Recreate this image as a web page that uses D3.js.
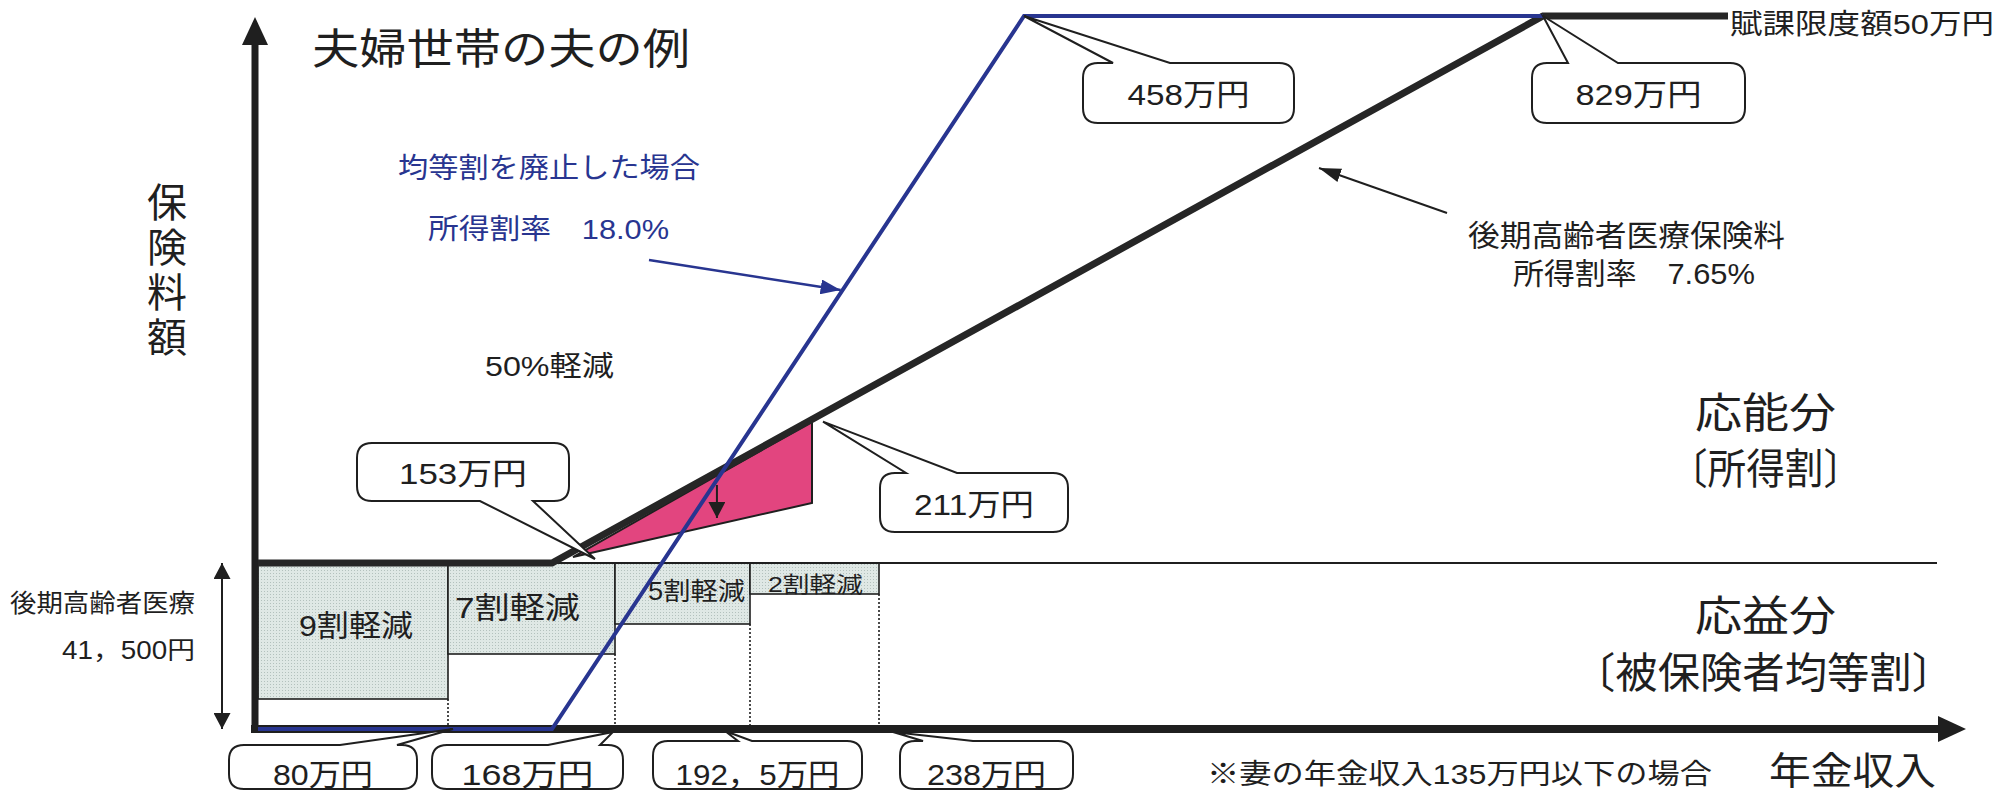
<!DOCTYPE html>
<html>
<head>
<meta charset="utf-8">
<script src="https://cdn.jsdelivr.net/npm/d3@7.9.0/dist/d3.min.js"></script>
<style>
  html, body { margin: 0; padding: 0; background: #fff; }
  svg { display: block; font-family: "Liberation Sans", "Noto Sans CJK JP", sans-serif; }
</style>
</head>
<body>
<svg id="chart" width="2014" height="792"></svg>
<script>
// 年金収入の区切り（万円）
const incomeBreaks = [0, 80, 153, 168, 192.5, 211, 238, 458, 829, 1000, 1200];

// 均等割の軽減区分（上端は 41,500円）
const flatRate = 41500;
const premiumCap = 500000;
const reductionLabels = ['9割軽減', '7割軽減', '5割軽減', '2割軽減'];
const reductionFrom = [0, 80, 168, 192.5];
const reductionTo = [80, 168, 192.5, 238];
const reductionFloor = [7500, 18750, 26250, 33750];

// 後期高齢者医療保険料（所得割率 7.65%）
const currentIncome = [0, 153, 829, 1000];
const currentPremium = [41500, 41500, 500000, 500000];

// 均等割を廃止した場合（所得割率 18.0%）
const abolishedIncome = [0, 153, 458, 829];
const abolishedPremium = [0, 0, 500000, 500000];

// 所得割 50%軽減 の部分
const halfIncome = [158, 211, 211];
const halfPremium = [46500, 160000, 91800];

// 吹き出しの値と、指している保険料の高さ
const calloutValues = [80, 168, 192.5, 238, 153, 211, 458, 829];
const calloutLabels = ['80万円', '168万円', '192，5万円', '238万円', '153万円', '211万円', '458万円', '829万円'];
const calloutLevel = [0, 0, 0, 0, 41500, 160000, 500000, 500000];

const svg = d3.select('#chart');

// schematic (not to scale) -> piecewise scales
const x = d3.scaleLinear()
  .domain(incomeBreaks)
  .range([258, 448, 552, 615, 750, 812, 879, 1024, 1543, 1728, 1963]);
const y = d3.scaleLinear()
  .domain([0, flatRate, premiumCap])
  .range([729, 563, 16]);

const ink = '#1f1f1f';
const navy = '#283590';

// dotted fill for the reduction boxes
const defs = svg.append('defs');
const pat = defs.append('pattern')
  .attr('id', 'dots').attr('width', 3).attr('height', 3)
  .attr('patternUnits', 'userSpaceOnUse');
pat.append('rect').attr('width', 3).attr('height', 3).attr('fill', '#dfe8e5');
pat.append('rect').attr('width', 1).attr('height', 1).attr('fill', '#b3c1bd');

function marker(id, color, len, wid) {
  defs.append('marker')
    .attr('id', id).attr('markerUnits', 'userSpaceOnUse')
    .attr('viewBox', `0 0 ${len} ${wid}`)
    .attr('refX', len).attr('refY', wid / 2)
    .attr('markerWidth', len).attr('markerHeight', wid)
    .attr('orient', 'auto-start-reverse')
    .append('path')
    .attr('d', `M0,0L${len},${wid / 2}L0,${wid}Z`)
    .attr('fill', color);
}
marker('headNavy', navy, 20, 15);
marker('headInk', ink, 22, 14);
marker('headSmall', ink, 16, 17);

// reduction boxes
const boxes = reductionLabels.map((label, i) => ({
  label, from: reductionFrom[i], to: reductionTo[i], floor: reductionFloor[i]
}));

svg.append('g').selectAll('rect')
  .data(boxes)
  .join('rect')
  .attr('x', d => x(d.from))
  .attr('y', y(flatRate))
  .attr('width', d => x(d.to) - x(d.from))
  .attr('height', d => y(d.floor) - y(flatRate))
  .attr('fill', 'url(#dots)')
  .attr('stroke', ink)
  .attr('stroke-width', 1.6);

// dotted drops from the box bottoms to the axis
svg.append('g').selectAll('line')
  .data(boxes)
  .join('line')
  .attr('x1', d => x(d.to)).attr('x2', d => x(d.to))
  .attr('y1', d => y(d.floor)).attr('y2', y(0))
  .attr('stroke', ink)
  .attr('stroke-width', 1.6)
  .attr('stroke-dasharray', '2,2');

// 均等割 level line across the chart
svg.append('line')
  .attr('x1', x(153)).attr('x2', 1937)
  .attr('y1', y(flatRate)).attr('y2', y(flatRate))
  .attr('stroke', ink).attr('stroke-width', 2);

// box labels
const boxText = [
  { x: 299, w: 114, y: 625, s: 30 },
  { x: 455, w: 125, y: 607, s: 30 },
  { x: 648, w: 97, y: 591, s: 25 },
  { x: 768, w: 95, y: 584, s: 22 }
];
svg.append('g').selectAll('text')
  .data(boxes)
  .join('text')
  .attr('x', (d, i) => boxText[i].x)
  .attr('y', (d, i) => boxText[i].y)
  .attr('textLength', (d, i) => boxText[i].w)
  .attr('lengthAdjust', 'spacingAndGlyphs')
  .attr('dominant-baseline', 'central')
  .attr('font-size', (d, i) => boxText[i].s)
  .attr('fill', ink)
  .text(d => d.label);

// axes
svg.append('line')
  .attr('x1', x(0) - 7).attr('x2', 1940)
  .attr('y1', y(0)).attr('y2', y(0))
  .attr('stroke', ink).attr('stroke-width', 8);
svg.append('path')
  .attr('d', `M1938,${y(0) - 13}L1966,${y(0)}L1938,${y(0) + 13}Z`)
  .attr('fill', ink);
svg.append('line')
  .attr('x1', x(0) - 3).attr('x2', x(0) - 3)
  .attr('y1', y(0) + 4).attr('y2', 42)
  .attr('stroke', ink).attr('stroke-width', 7);
svg.append('path')
  .attr('d', `M${x(0) - 16},45L${x(0) - 3},17L${x(0) + 10},45Z`)
  .attr('fill', ink);

// 50%軽減 wedge
const halfPts = halfIncome.map((v, i) => [x(v), y(halfPremium[i])]);
svg.append('path')
  .attr('d', d3.line()(halfPts) + 'Z')
  .attr('fill', '#e2457f')
  .attr('stroke', ink)
  .attr('stroke-width', 2);

// lines
const line = d3.line().x(d => x(d[0])).y(d => y(d[1]));
svg.append('path')
  .attr('d', line(currentIncome.map((v, i) => [v, currentPremium[i]])))
  .attr('fill', 'none')
  .attr('stroke', '#262626')
  .attr('stroke-width', 7)
  .attr('stroke-linejoin', 'miter');
svg.append('path')
  .attr('d', line(abolishedIncome.map((v, i) => [v, abolishedPremium[i]])))
  .attr('fill', 'none')
  .attr('stroke', navy)
  .attr('stroke-width', 4);

// small arrow in the pink wedge
svg.append('line')
  .attr('x1', x(186.5)).attr('x2', x(186.5))
  .attr('y1', y(106900)).attr('y2', y(79200))
  .attr('stroke', ink).attr('stroke-width', 2)
  .attr('marker-end', 'url(#headSmall)');

// arrow to the blue line
const b0 = [x(153), y(0)], b1 = [x(458), y(premiumCap)];
const tY = 290;
const tX = b0[0] + (b1[0] - b0[0]) * (b0[1] - tY) / (b0[1] - b1[1]);
svg.append('line')
  .attr('x1', 649).attr('y1', 260).attr('x2', tX - 2).attr('y2', tY)
  .attr('stroke', navy).attr('stroke-width', 2.5)
  .attr('marker-end', 'url(#headNavy)');

// arrow to the black line
svg.append('line')
  .attr('x1', 1447).attr('y1', 213).attr('x2', 1319).attr('y2', 168)
  .attr('stroke', ink).attr('stroke-width', 2)
  .attr('marker-end', 'url(#headInk)');

// 41,500円 double arrow
svg.append('line')
  .attr('x1', 222).attr('x2', 222)
  .attr('y1', y(0)).attr('y2', y(flatRate))
  .attr('stroke', ink).attr('stroke-width', 2)
  .attr('marker-start', 'url(#headSmall)')
  .attr('marker-end', 'url(#headSmall)');

// callouts
const calloutBox = [
  { box: [229, 745, 417, 789], side: 'top', base: [340, 397], off: [5, 0], ty: 774 },
  { box: [432, 745, 623, 789], side: 'top', base: [548, 600], off: [-2, 3], ty: 774 },
  { box: [653, 741, 862, 789], side: 'top', base: [738, 752], off: [-25, 2], ty: 774 },
  { box: [900, 741, 1073, 789], side: 'top', base: [923, 973], off: [14, 3], ty: 774 },
  { box: [357, 443, 569, 501], side: 'bottom', base: [480, 533], off: [43, -4], ty: 473 },
  { box: [880, 473, 1068, 532], side: 'top', base: [906, 957], off: [11, 0], ty: 504 },
  { box: [1083, 63, 1294, 123], side: 'top', base: [1113, 1170], off: [0, 0], ty: 94 },
  { box: [1532, 63, 1745, 123], side: 'top', base: [1568, 1618], off: [0, 0], ty: 94 }
];
const calloutWidth = [100, 132, 164, 119, 128, 120, 122, 126];

function calloutPath(c, tip) {
  const [x0, y0, x1, y1] = c.box, r = 15;
  const p = d3.path();
  p.moveTo(x0 + r, y0);
  if (c.side === 'top') {
    p.lineTo(c.base[0], y0); p.lineTo(tip[0], tip[1]); p.lineTo(c.base[1], y0);
  }
  p.lineTo(x1 - r, y0);
  p.quadraticCurveTo(x1, y0, x1, y0 + r);
  p.lineTo(x1, y1 - r);
  p.quadraticCurveTo(x1, y1, x1 - r, y1);
  if (c.side === 'bottom') {
    p.lineTo(c.base[1], y1); p.lineTo(tip[0], tip[1]); p.lineTo(c.base[0], y1);
  }
  p.lineTo(x0 + r, y1);
  p.quadraticCurveTo(x0, y1, x0, y1 - r);
  p.lineTo(x0, y0 + r);
  p.quadraticCurveTo(x0, y0, x0 + r, y0);
  p.closePath();
  return p.toString();
}

const callouts = calloutValues.map((v, i) => ({
  v, label: calloutLabels[i], lay: calloutBox[i], w: calloutWidth[i],
  tip: [x(v) + calloutBox[i].off[0], y(calloutLevel[i]) + calloutBox[i].off[1]]
}));

const cg = svg.append('g').selectAll('g').data(callouts).join('g');
cg.append('path')
  .attr('d', d => calloutPath(d.lay, d.tip))
  .attr('fill', '#fff')
  .attr('stroke', ink)
  .attr('stroke-width', 2);
cg.append('text')
  .attr('x', d => (d.lay.box[0] + d.lay.box[2]) / 2 - d.w / 2)
  .attr('y', d => d.lay.ty)
  .attr('textLength', d => d.w)
  .attr('lengthAdjust', 'spacingAndGlyphs')
  .attr('dominant-baseline', 'central')
  .attr('font-size', 30)
  .attr('fill', ink)
  .text(d => d.label);

// free text
const notes = [
  { t: '夫婦世帯の夫の例', x: 312, w: 378, y: 49, s: 42, c: ink },
  { t: '均等割を廃止した場合', x: 398, w: 302, y: 168, s: 28, c: navy },
  { t: '所得割率　18.0%', x: 428, w: 241, y: 229, s: 28, c: navy },
  { t: '50%軽減', x: 485, w: 129, y: 366, s: 28, c: ink },
  { t: '賦課限度額50万円', x: 1730, w: 264, y: 24, s: 28, c: ink },
  { t: '後期高齢者医療保険料', x: 1468, w: 317, y: 235, s: 30, c: ink },
  { t: '所得割率　7.65%', x: 1513, w: 242, y: 273, s: 30, c: ink },
  { t: '応能分', x: 1695, w: 141, y: 413, s: 42, c: ink },
  { t: '〔所得割〕', x: 1669, w: 193, y: 469, s: 42, c: ink },
  { t: '応益分', x: 1695, w: 141, y: 616, s: 42, c: ink },
  { t: '〔被保険者均等割〕', x: 1573, w: 381, y: 673, s: 42, c: ink },
  { t: '年金収入', x: 1769, w: 167, y: 771, s: 38, c: ink },
  { t: '※妻の年金収入135万円以下の場合', x: 1207, w: 505, y: 774, s: 28, c: ink },
  { t: '後期高齢者医療', x: 10, w: 185, y: 603, s: 25, c: ink },
  { t: '41，500円', x: 62, w: 133, y: 650, s: 25, c: ink }
];
svg.append('g').selectAll('text')
  .data(notes)
  .join('text')
  .attr('x', d => d.x)
  .attr('y', d => d.y)
  .attr('textLength', d => d.w)
  .attr('lengthAdjust', 'spacingAndGlyphs')
  .attr('dominant-baseline', 'central')
  .attr('font-size', d => d.s)
  .attr('fill', d => d.c)
  .text(d => d.t);

// 保険料額 (vertical)
const yTitle = ['保', '険', '料', '額'];
const yTitlePos = [203, 248, 293, 338];
svg.append('g').selectAll('text')
  .data(yTitle)
  .join('text')
  .attr('x', 167)
  .attr('y', (d, i) => yTitlePos[i])
  .attr('text-anchor', 'middle')
  .attr('dominant-baseline', 'central')
  .attr('font-size', 40)
  .attr('fill', ink)
  .text(d => d);
</script>
</body>
</html>
